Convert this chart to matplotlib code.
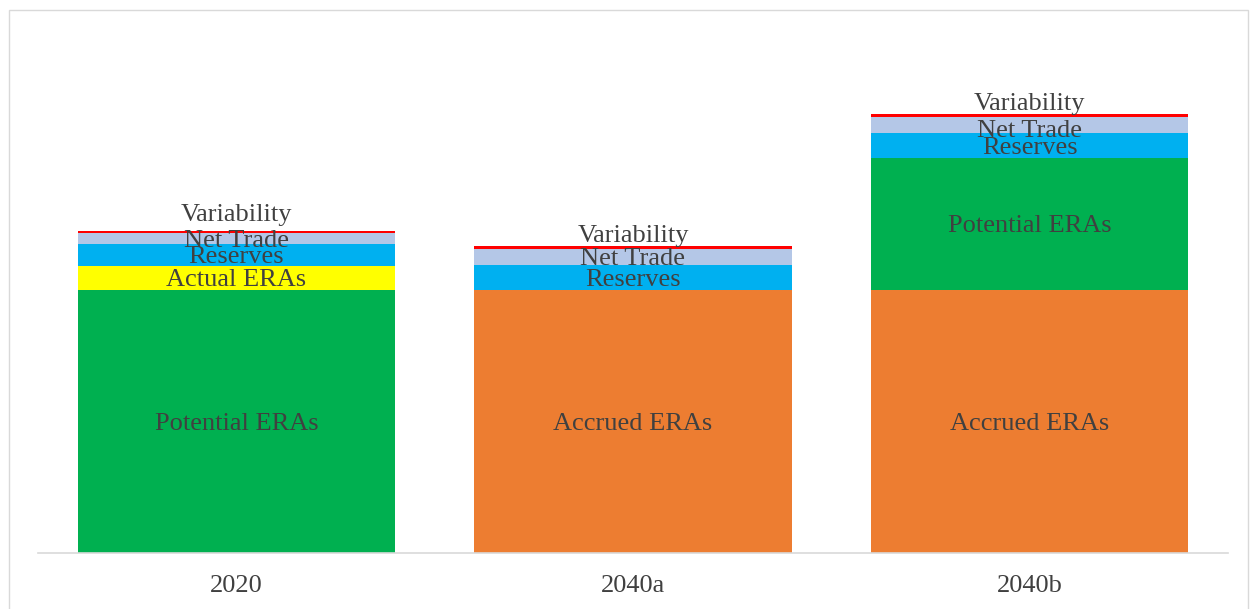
import numpy as np
import matplotlib.pyplot as plt
from matplotlib.patches import Rectangle

##### Data (arbitrary units) #####
categories = ['2020', '2040a', '2040b']
series_names = ['Accrued ERAs', 'Potential ERAs', 'Actual ERAs',
                'Reserves', 'Net Trade', 'Variability']
accrued = [0, 263, 263]
potential = [263, 0, 132]
actual = [24, 0, 0]
reserves = [22, 25, 25]
net_trade = [11, 16, 16]
variability = [2, 3, 3]

colors = ['#ED7D31', '#00B050', '#FFFF00', '#00B0F0', '#B4C7E7', '#FF0000']
text_color = '#404040'
# manual nudge (points) of the labels that were dragged in the original
var_label_offset = [7, 3, 2.5]
label_nudge = {('Net Trade', 2): -3}

plt.rcParams['font.family'] = ['Liberation Serif', 'DejaVu Serif']

fig = plt.figure(figsize=(12.58, 6.09), dpi=100)
# chart area border
fig.patches.append(Rectangle((9 / 1258, -0.01), 1239 / 1258, (609 - 10) / 609 + 0.01,
                             transform=fig.transFigure, fill=False,
                             edgecolor='#D9D9D9', linewidth=1))

ax = fig.add_axes([38 / 1258, (609 - 552.7) / 609, 1190 / 1258, (552.7 - 30) / 609])

x = np.arange(len(categories))
all_series = [accrued, potential, actual, reserves, net_trade, variability]
bottom = np.zeros(len(categories))
for name, vals, col in zip(series_names, all_series, colors):
    vals = np.asarray(vals, dtype=float)
    ax.bar(x, vals, 0.8, bottom=bottom, color=col, linewidth=0)
    for i, v in enumerate(vals):
        if v <= 0:
            continue
        if name == 'Variability':
            ax.annotate(name, (x[i], bottom[i] + v), xytext=(0, var_label_offset[i]),
                        textcoords='offset points', ha='center', va='baseline',
                        fontsize=19, color=text_color)
        else:
            ax.annotate(name, (x[i], bottom[i] + v / 2),
                        xytext=(0, label_nudge.get((name, i), 0)),
                        textcoords='offset points', ha='center', va='center_baseline',
                        fontsize=19, color=text_color)
    bottom += vals

ax.set_xlim(-0.5, 2.5)
ax.set_ylim(0, 552.7 - 30)
ax.set_xticks(x)
ax.set_xticklabels(categories, fontsize=19, color=text_color)
ax.tick_params(axis='x', length=0, pad=16)
ax.set_yticks([])
for side in ['top', 'right', 'left']:
    ax.spines[side].set_visible(False)
ax.spines['bottom'].set_color('#D9D9D9')
ax.spines['bottom'].set_linewidth(1.2)

fig.savefig('out.png', dpi=100)
